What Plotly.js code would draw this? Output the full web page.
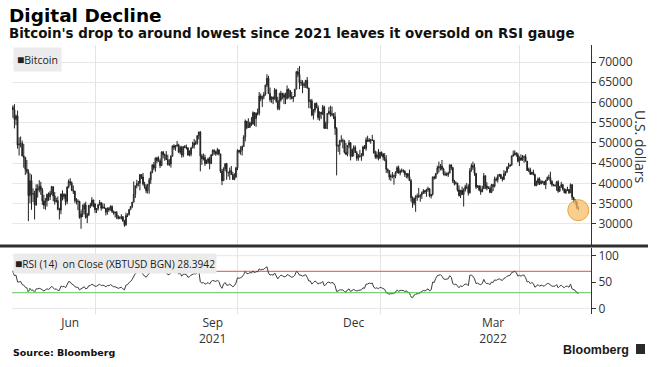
<!DOCTYPE html>
<html><head><meta charset="utf-8">
<script src="https://cdn.plot.ly/plotly-3.0.1.min.js"></script>
<style>html,body{margin:0;padding:0;background:#fff;}#chart{width:663px;height:367px;}</style>
</head><body><div id="chart"></div>
<script>
// ---- data (prices in thousands of U.S. dollars, daily from 2021-05-09) ----
const startDate = [2021, 4, 9];
const firstOpenK = 58.8;
const closeK = [
58.2,55.8,56.7,49.5,49.7,49.9,46.8,46.4,43.5,42.9,37.0,40.7,37.3,37.5,34.7,38.7,38.4,39.3,38.4,35.7,34.6,35.7,37.3,
36.7,37.6,39.2,36.9,35.5,35.8,33.6,33.4,37.4,36.7,37.3,35.5,39.1,40.5,40.1,38.3,38.1,35.8,35.5,35.6,31.6,32.5,33.7,34.7,31.6,32.2,34.6,34.5,35.9,35.0,
33.5,33.8,34.7,35.3,33.9,34.2,33.9,32.9,33.8,33.5,34.3,33.1,32.7,32.8,31.8,31.4,31.5,31.8,30.8,29.8,32.1,32.3,33.6,34.3,35.4,37.3,39.4,40.0,40.0,42.2,41.6,
39.9,39.2,38.2,39.7,40.9,42.8,44.6,43.8,46.3,45.6,45.6,44.4,47.8,47.1,47.0,45.9,44.7,44.8,46.7,49.3,48.9,49.3,49.5,47.7,48.9,47.0,49.1,48.9,48.8,47.0,47.2,
48.8,49.3,50.0,49.9,51.8,52.7,46.8,46.1,46.4,44.9,45.2,46.1,44.9,47.1,48.2,47.8,47.3,48.3,47.3,43.0,40.7,43.6,44.9,42.8,42.7,43.2,42.2,41.0,41.5,43.8,
48.2,47.8,48.2,49.1,51.5,55.4,53.8,53.9,55.0,54.7,57.5,56.0,57.4,57.3,61.6,60.9,61.5,62.0,64.3,66.0,62.2,60.7,61.3,60.9,63.1,60.3,58.5,60.6,62.3,61.9,61.3,
61.0,63.2,62.9,61.4,61.0,61.5,63.3,67.6,66.9,64.9,64.9,64.2,64.5,65.5,63.6,60.2,60.4,56.9,58.1,59.8,58.7,56.3,57.6,57.2,58.9,53.6,54.8,57.3,57.8,57.0,
57.2,56.5,53.6,49.2,49.4,50.6,50.6,50.5,47.7,47.2,49.4,50.1,46.7,48.4,48.9,47.6,46.2,46.8,46.7,46.9,49.0,48.6,50.8,50.4,50.8,50.6,50.7,47.5,46.5,47.1,46.2,
47.7,47.3,46.5,45.9,43.5,43.2,41.6,41.8,41.9,41.8,42.7,43.9,42.6,43.1,43.2,43.1,42.2,42.4,41.7,40.7,36.5,35.1,36.3,36.7,36.9,36.8,37.2,37.7,38.2,37.9,38.5,
38.7,36.9,37.3,41.6,41.4,42.4,43.8,44.1,44.3,43.6,42.4,42.2,42.1,42.6,44.6,43.9,40.6,40.0,40.1,38.4,37.0,38.3,37.3,38.3,39.2,39.1,37.7,43.2,
44.4,44.0,42.5,39.1,39.4,38.4,37.9,38.7,41.9,39.4,38.8,38.8,37.8,39.7,39.3,41.1,40.9,41.8,42.2,41.3,41.0,42.4,42.9,44.0,44.3,44.5,46.8,47.1,47.5,47.1,45.5,
46.3,45.8,46.5,46.6,45.5,43.2,43.4,42.3,42.8,42.2,39.5,40.1,41.1,39.9,40.5,40.4,39.7,40.8,41.5,41.4,40.5,39.7,39.5,39.5,40.4,38.1,39.2,39.7,38.6,37.7,
38.5,38.5,37.7,39.7,36.6,36.0,35.5,34.1,33.8];
const highK = [
59.3,59.6,57.0,58.0,51.4,51.6,50.6,49.8,46.6,45.8,43.5,42.5,42.2,38.8,38.2,39.8,39.8,40.8,40.4,38.9,37.2,36.4,37.5,
37.8,38.2,39.4,39.3,37.9,36.5,36.8,34.0,37.5,38.3,37.6,37.4,39.3,41.0,41.3,40.5,39.5,38.2,36.4,36.1,35.7,33.3,34.8,35.2,35.5,32.7,34.7,35.2,36.6,36.0,
35.0,33.9,34.9,35.9,35.3,35.1,35.0,33.9,34.1,34.2,34.6,34.6,33.3,33.1,33.2,32.2,31.9,32.4,31.9,31.0,32.8,32.6,33.6,34.4,35.4,40.5,39.5,40.9,40.6,42.3,42.3,
42.6,40.4,39.8,39.9,41.4,43.0,44.7,45.3,46.4,46.6,46.7,46.2,47.9,48.0,47.4,48.0,47.1,46.0,47.0,49.3,49.7,49.5,50.5,49.8,49.3,49.3,49.2,49.5,49.6,48.9,48.2,
48.9,50.3,51.0,50.6,51.9,52.8,52.9,47.3,47.4,47.1,45.9,46.4,46.6,47.2,48.4,48.4,48.1,48.8,48.4,47.3,43.6,44.0,44.9,45.1,42.8,43.9,44.3,42.8,42.5,44.1,
48.4,48.3,49.2,49.4,51.9,55.8,55.3,56.1,55.3,56.4,57.8,57.6,57.5,58.5,62.6,62.2,61.7,62.6,64.4,67.0,66.6,63.7,61.5,61.5,63.6,63.3,61.4,62.4,62.9,62.3,62.4,
62.4,64.2,63.5,63.1,62.6,61.6,63.3,67.8,68.5,69.0,65.6,65.5,65.0,65.5,66.3,63.6,60.8,60.9,58.4,59.9,60.0,59.3,57.8,57.6,59.4,59.2,55.3,57.4,58.9,59.2,
59.0,57.3,57.6,53.9,49.6,50.8,51.9,51.1,50.8,50.0,49.4,50.7,50.1,48.6,49.4,49.4,48.0,47.3,48.3,47.5,49.3,49.5,51.4,51.8,51.2,51.0,52.0,50.7,48.1,47.9,48.5,
47.8,47.9,47.5,47.5,47.0,43.7,43.1,42.3,42.8,42.2,43.0,44.3,44.4,43.4,43.7,43.5,43.2,42.6,42.6,43.4,41.1,36.8,36.5,37.1,37.5,38.9,37.2,38.0,38.6,38.4,38.7,
39.2,38.8,37.4,41.7,41.9,42.6,44.4,45.4,44.8,45.8,43.9,43.0,42.7,42.9,44.7,44.5,44.1,40.9,40.5,40.1,39.5,38.4,39.2,38.8,39.7,40.1,39.8,43.8,
44.9,45.4,44.9,42.5,39.6,39.6,39.5,39.4,42.6,42.0,40.3,39.3,39.3,39.9,39.9,41.7,41.5,42.3,42.4,42.3,41.7,43.3,43.0,44.2,45.1,44.8,46.9,48.1,48.2,47.7,47.6,
46.7,47.2,47.0,46.9,47.2,45.5,43.9,43.9,42.8,43.4,42.4,40.7,41.5,41.5,40.8,40.7,40.6,40.9,41.7,42.2,42.9,40.8,39.9,39.8,40.6,40.8,39.4,40.4,39.9,38.8,
38.7,39.2,38.6,40.0,39.8,36.6,36.1,35.5,34.3];
const lowK = [
56.2,53.6,54.4,48.6,46.9,48.9,46.7,43.9,42.1,42.4,30.7,35.1,33.5,35.4,31.1,34.5,36.5,37.8,37.2,34.7,33.7,33.5,34.3,
35.7,35.9,37.2,35.6,34.8,35.3,33.4,31.1,32.4,35.8,36.1,34.6,34.9,38.8,39.5,38.1,37.4,35.2,34.8,33.4,31.3,28.8,31.7,32.3,31.3,30.2,32.0,33.9,34.3,34.1,
32.7,32.7,33.3,34.6,33.3,33.8,33.8,32.1,32.3,33.0,33.3,32.7,32.3,31.6,31.2,31.1,31.2,31.1,30.5,29.3,29.5,31.7,32.1,33.4,33.9,35.3,36.4,38.8,39.3,38.3,41.1,
39.5,38.7,37.6,37.5,37.5,39.9,42.5,43.3,42.9,45.0,45.4,43.8,44.3,46.2,45.6,45.8,44.4,44.3,43.9,46.7,48.3,48.1,49.1,47.6,47.2,46.4,46.5,48.7,48.4,46.9,46.7,
46.7,48.7,48.6,49.5,49.6,50.9,43.0,44.6,45.7,44.3,44.8,44.8,43.5,44.8,46.8,47.1,46.8,47.1,46.9,42.6,39.6,40.6,43.1,40.9,41.7,40.9,42.1,40.9,40.8,41.5,
43.3,47.4,47.1,46.9,49.1,50.4,53.4,53.7,53.7,54.2,54.5,54.2,54.0,56.8,56.8,60.3,58.9,60.8,61.7,63.8,62.1,60.1,59.9,59.6,60.7,59.9,58.1,58.1,60.2,60.8,59.6,
59.6,60.7,61.0,60.7,60.8,60.1,61.4,63.3,66.3,63.3,64.1,62.3,63.6,63.6,63.4,58.6,58.5,56.6,55.8,57.5,58.6,55.7,55.5,55.9,56.9,53.6,53.7,53.4,57.0,56.5,
56.6,55.9,52.0,42.0,47.8,47.1,50.1,48.7,47.4,47.0,46.7,48.7,45.7,46.5,46.7,47.6,45.6,45.6,46.4,45.6,46.7,48.5,48.1,50.4,50.2,49.8,50.5,47.4,46.1,46.0,45.7,
46.2,46.7,45.7,45.5,42.6,42.5,40.9,40.6,41.3,39.7,41.3,42.5,42.4,42.0,42.7,42.6,41.6,41.3,41.2,40.6,35.5,34.0,34.6,33.0,35.7,36.4,35.5,36.2,37.4,37.4,36.7,
38.0,36.6,36.3,37.0,40.9,41.1,42.3,42.7,43.2,43.2,42.0,41.8,41.9,41.6,42.5,43.3,40.1,39.5,39.7,38.0,36.8,36.4,37.2,34.3,38.0,38.6,37.0,37.5,
42.9,43.4,41.9,38.6,38.9,38.1,37.2,37.9,38.7,38.6,38.3,38.7,37.6,37.6,38.1,39.0,40.5,40.2,41.7,41.1,40.5,40.9,41.9,42.6,43.6,44.1,44.4,46.6,46.9,46.6,45.2,
44.3,45.6,45.6,45.1,45.4,43.1,42.8,42.1,42.2,42.0,39.3,39.3,39.6,39.6,39.8,40.0,39.6,38.6,40.6,40.9,39.8,39.2,39.3,39.2,38.2,37.7,37.9,38.9,38.2,37.6,
37.4,38.1,37.4,37.7,35.9,35.3,34.8,33.7,33.3];
const rsi14 = [
69,62,63,50,50,51,45,44,40,39,31,38,34,35,31,37,37,38,37,34,33,35,37,
36,38,42,38,36,37,34,34,42,41,42,39,46,51,50,46,45,41,40,40,35,37,39,41,37,38,43,43,46,44,
42,42,44,46,43,44,43,41,43,43,45,42,41,41,39,38,39,40,37,35,44,45,49,51,55,61,66,68,68,72,70,
64,62,59,63,66,70,73,70,75,73,73,68,74,72,72,68,64,64,68,72,71,72,72,65,67,61,65,65,64,59,60,
63,64,66,65,69,71,50,48,49,46,47,49,46,51,53,52,51,53,51,42,38,46,49,44,44,46,44,41,43,48,
58,57,58,60,64,70,66,66,68,67,71,67,70,69,75,73,74,74,77,79,67,63,64,63,67,60,56,60,63,62,60,
60,64,63,60,59,60,63,70,68,63,63,61,62,64,59,52,52,46,49,52,50,46,48,48,51,43,45,49,50,48,
49,48,43,32,33,35,35,35,32,31,35,37,32,35,36,34,33,34,34,35,39,38,46,46,48,47,48,40,38,39,37,
40,39,37,36,30,29,27,28,28,28,31,35,32,34,34,34,32,33,31,29,22,20,25,27,28,28,30,32,34,33,36,
37,33,35,50,49,57,62,63,64,61,56,55,55,56,62,59,47,45,46,42,39,43,41,44,46,46,43,63,
63,61,56,47,48,46,45,47,55,49,47,47,45,50,49,54,53,55,56,54,53,57,58,61,62,63,68,69,70,68,61,
63,61,63,63,58,50,51,47,49,47,40,42,45,42,44,43,42,45,47,47,44,42,42,42,45,39,42,44,41,39,
42,42,40,46,37,35,34,30,28.39];
const lastRsiText = '28.3942';
const monthTicks = ['2021-06-15','2021-09-15','2021-12-15','2022-03-15'];
const monthLabels = ['Jun','Sep<br>2021','Dec','Mar<br>2022'];
const quarterLines = ['2021-07-01','2021-10-01','2022-01-01','2022-04-01'];
const priceTicks = [30000,35000,40000,45000,50000,55000,60000,65000,70000];
const rsiTicks = [0,50,100];
const rsiOverbought = 70, rsiOversold = 30;
const highlightDate = ['2022-05-09'];
const highlightK = [33.4];

// ---- build ----
const dates = closeK.map((_, i) => new Date(Date.UTC(startDate[0], startDate[1], startDate[2] + i)).toISOString().slice(0, 10));
const toUSD = a => a.map(v => v * 1000);
const openK = closeK.map((_, i) => i === 0 ? firstOpenK : closeK[i - 1]);
// oversold stretches of the RSI line are drawn green
const rsiOversoldPart = rsi14.map((v, i) => (v <= rsiOversold + 1 || (rsi14[i - 1] <= rsiOversold + 1) || (rsi14[i + 1] <= rsiOversold + 1)) ? v : null);

const L = 12, R = 591, T = 45, B = 314;
const xp = px => (px - L) / (R - L);
const yp = py => (B - py) / (B - T);
const xRange = ['2021-05-08 10:00','2022-05-17 05:00'];

const traces = [
  {type:'candlestick', x:dates, open:toUSD(openK), high:toUSD(highK), low:toUSD(lowK), close:toUSD(closeK),
   xaxis:'x', yaxis:'y', whiskerwidth:0, hoverinfo:'skip', showlegend:false,
   increasing:{line:{color:'#222', width:1}, fillcolor:'#ffffff'},
   decreasing:{line:{color:'#222', width:1}, fillcolor:'#222'}},
  {type:'scatter', mode:'markers', x:highlightDate, y:toUSD(highlightK), xaxis:'x', yaxis:'y', hoverinfo:'skip', showlegend:false,
   marker:{size:21, color:'rgba(247,189,98,0.72)', line:{color:'#eba23a', width:1}}},
  {type:'scatter', mode:'lines', x:xRange, y:[rsiOverbought, rsiOverbought], xaxis:'x', yaxis:'y2', hoverinfo:'skip', showlegend:false,
   line:{color:'rgb(236,112,112)', width:1.2}},
  {type:'scatter', mode:'lines', x:xRange, y:[rsiOversold, rsiOversold], xaxis:'x', yaxis:'y2', hoverinfo:'skip', showlegend:false,
   line:{color:'rgb(128,208,128)', width:1.2}},
  {type:'scatter', mode:'lines', x:dates, y:rsi14, xaxis:'x', yaxis:'y2', hoverinfo:'skip', showlegend:false,
   line:{color:'#3c3c3c', width:1}},
  {type:'scatter', mode:'lines', x:dates, y:rsiOversoldPart, xaxis:'x', yaxis:'y2', hoverinfo:'skip', showlegend:false,
   connectgaps:false, line:{color:'#4caf50', width:1}}
];

const tickFont = {family:'Open Sans, Noto Sans, sans-serif', size:12, color:'#333'};
const layout = {
  width:663, height:367, margin:{l:L, r:663 - R, t:T, b:367 - B},
  paper_bgcolor:'#fff', plot_bgcolor:'#fff', showlegend:false,
  xaxis:{type:'date', anchor:'y2', range:xRange,
    tickmode:'array', tickvals:monthTicks, ticktext:monthLabels, ticks:'', showgrid:false,
    showline:false, zeroline:false, tickfont:tickFont, rangeslider:{visible:false}, fixedrange:true,
    minor:{tickmode:'array', tickvals:quarterLines, showgrid:true, gridcolor:'#e3e3e3', gridwidth:1, ticks:''}},
  yaxis:{domain:[yp(245), 1], range:[24800, 74200], side:'right', anchor:'x',
    tickmode:'array', tickvals:priceTicks, tickformat:'d', ticks:'outside', ticklen:4, tickcolor:'#333',
    showline:true, linecolor:'#333', linewidth:1, showgrid:true, gridcolor:'#e8e8e8', zeroline:false,
    tickfont:tickFont, fixedrange:true},
  yaxis2:{domain:[0, yp(248)], range:[-10.8, 114.6], side:'right', anchor:'x',
    tickmode:'array', tickvals:rsiTicks, ticks:'outside', ticklen:4, tickcolor:'#333',
    showline:true, linecolor:'#333', linewidth:1, showgrid:false, zeroline:false,
    tickfont:tickFont, fixedrange:true},
  shapes:[
    {type:'line', xref:'paper', yref:'y2', x0:0, x1:1, y0:0, y1:0, line:{color:'#e6e6e6', width:1}, layer:'below'},
    {type:'line', xref:'paper', yref:'y2', x0:0, x1:1, y0:100, y1:100, line:{color:'#e6e6e6', width:1}, layer:'below'},
    {type:'line', xref:'paper', yref:'paper', x0:xp(0), x1:xp(648), y0:yp(246), y1:yp(246), line:{color:'#2f2f2f', width:3}},
    {type:'rect', xref:'paper', yref:'paper', x0:xp(636), x1:xp(645), y0:yp(344), y1:yp(354), fillcolor:'#2a2a2a', line:{width:0}}
  ],
  annotations:[
    {text:'<b>Digital Decline</b>', xref:'paper', yref:'paper', x:xp(7), y:yp(3), xanchor:'left', yanchor:'top', showarrow:false,
     font:{family:'DejaVu Sans, sans-serif', size:18.5, color:'#000'}},
    {text:"<b>Bitcoin's drop to around lowest since 2021 leaves it oversold on RSI gauge</b>", xref:'paper', yref:'paper', x:xp(7), y:yp(24), xanchor:'left', yanchor:'top', showarrow:false,
     font:{family:'DejaVu Sans, sans-serif', size:13.4, color:'#111'}},
    {text:'<span style="font-size:12px">\u25A0</span>Bitcoin', xref:'paper', yref:'paper', x:xp(13), y:yp(47), xanchor:'left', yanchor:'top', showarrow:false,
     bgcolor:'#ebebeb', borderpad:3, font:{family:'Open Sans, sans-serif', size:10.5, color:'#222'}},
    {text:'<span style="font-size:12px">\u25A0</span>RSI (14) \u00a0on Close (XBTUSD BGN) ' + lastRsiText, xref:'paper', yref:'paper', x:xp(13), y:yp(253), xanchor:'left', yanchor:'top', showarrow:false,
     bgcolor:'#ebebeb', borderpad:1, font:{family:'Open Sans, sans-serif', size:10.2, color:'#222'}},
    {text:'U.S. dollars', textangle:90, xref:'paper', yref:'paper', x:xp(641), y:yp(146), xanchor:'center', yanchor:'middle', showarrow:false,
     font:{family:'Open Sans, sans-serif', size:14, color:'#333'}},
    {text:'<b>Source: Bloomberg</b>', xref:'paper', yref:'paper', x:xp(11), y:yp(352), xanchor:'left', yanchor:'middle', showarrow:false,
     font:{family:'DejaVu Sans, sans-serif', size:9.5, color:'#111'}},
    {text:'<b>Bloomberg</b>', xref:'paper', yref:'paper', x:xp(631), y:yp(350), xanchor:'right', yanchor:'middle', showarrow:false,
     font:{family:'Liberation Sans, Arial, sans-serif', size:12.5, color:'#1a1a1a'}}
  ]
};
Plotly.newPlot('chart', traces, layout, {displayModeBar:false, staticPlot:true});
</script>
</body></html>
